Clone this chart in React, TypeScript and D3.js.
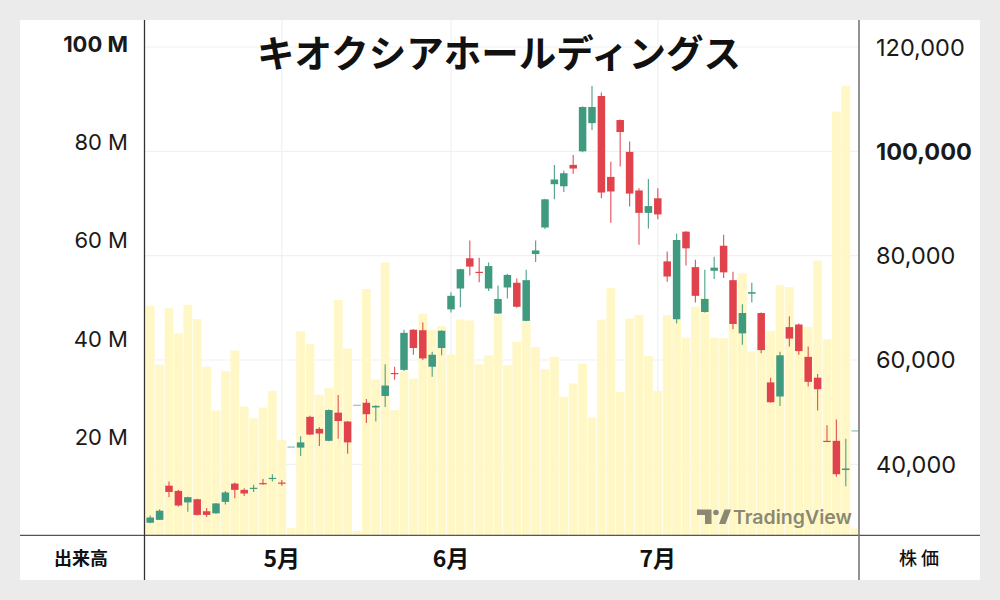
import * as d3 from "d3"

// daily candles, index 0..75 (late Apr – late Jul)
const opens = [
  28800, 29350, 35900, 34900, 32700, 33300, 31000, 30600, 32800, 36300, 35100, 35300, 36400, 37200, 36500, 43300,
  43200, 49100, 46800, 44500, 49900, 48200, 51300, 51800, 50900, 53100, 57500, 58100, 65800, 65700, 58700, 62300,
  69700, 73700, 79500, 76900, 73700, 68900, 73900, 74800, 67500, 80300, 85400, 93700, 93300, 97400, 100000, 105400,
  110600, 95100, 106000, 99900, 92500, 88200, 91000, 78900, 67800, 84600, 77800, 69200, 77100, 81900, 75300, 65100,
  72700, 69000, 55700, 53000, 66300, 66800, 60600, 56600, 44500, 44500, 38900, 46400,
]
const highs = [
  30200, 31400, 36700, 35100, 33800, 33400, 31600, 32600, 34900, 36500, 35400, 36100, 37200, 38100, 37000, 43300,
  45400, 49300, 47100, 50500, 53300, 48300, 51300, 52500, 51300, 59200, 58700, 65800, 65900, 67200, 61600, 65700,
  73000, 77500, 82900, 79600, 78700, 74300, 76500, 75600, 77300, 82900, 90900, 97400, 96300, 99300, 108600, 112500,
  111300, 98000, 106100, 101900, 92900, 94700, 92900, 80800, 84200, 84700, 79200, 77300, 79800, 84000, 76900, 70700,
  74800, 69100, 56600, 61600, 68400, 67000, 62600, 57300, 47500, 48600, 44900, 46400,
]
const lows = [
  28700, 29300, 33700, 31900, 30900, 30200, 29900, 30500, 32300, 33500, 33900, 34700, 36100, 36700, 35900, 43300,
  41600, 45600, 43500, 44400, 44900, 42000, 51300, 47900, 48200, 51000, 56200, 57900, 61000, 60000, 56800, 60900,
  69100, 70100, 76200, 74900, 73200, 68800, 71800, 70000, 67400, 78800, 85100, 90800, 92200, 95700, 99800, 104100,
  91000, 86300, 97100, 89400, 82100, 85200, 87000, 75000, 67000, 78100, 71000, 69100, 75500, 75700, 65900, 62900,
  71000, 61300, 51800, 51200, 62600, 61000, 54900, 50300, 44400, 37600, 35800, 46400,
]
const closes = [
  29800, 31100, 34700, 32100, 33700, 30300, 30300, 32500, 34600, 35100, 34400, 35500, 36200, 37400, 36300, 43300,
  44200, 45700, 45900, 50400, 48300, 44200, 51300, 49600, 51200, 55100, 57400, 65200, 62300, 60300, 61000, 65600,
  72300, 77400, 77900, 76700, 78000, 71700, 76300, 70200, 75300, 81000, 90800, 94600, 95800, 96700, 108500, 108500,
  92100, 92300, 103700, 91900, 88200, 89500, 87900, 76000, 83000, 81400, 72300, 71700, 77700, 76800, 66900, 69000,
  73000, 61900, 51900, 60900, 64100, 61700, 55800, 54400, 44400, 38100, 39200, 46400,
]
// 出来高 (millions of shares)
const volumes = [
  46.7, 34.7, 46.2, 41.1, 46.9, 44.0, 34.3, 25.4, 33.4, 37.6, 26.2, 23.8, 26.0, 29.4, 19.4, 1.5,
  41.5, 38.9, 28.6, 30.0, 47.9, 38.0, 0.9, 50.1, 31.7, 55.5, 25.5, 33.4, 31.9, 45.1, 41.8, 42.6,
  36.8, 43.9, 43.7, 34.8, 36.6, 44.9, 34.6, 39.4, 43.6, 38.3, 33.8, 36.3, 28.2, 30.9, 34.9, 23.9,
  43.9, 50.3, 29.2, 44.1, 44.8, 36.5, 29.4, 44.8, 43.9, 40.2, 46.5, 48.2, 40.2, 40.1, 42.9, 53.3,
  37.4, 39.7, 41.6, 50.9, 50.5, 42.4, 42.4, 55.9, 39.9, 86.2, 91.5, 1.4,
]

const monthIndex = [14, 32, 54]
const monthLabels = ["5月", "6月", "7月"]
const priceTicks = [40000, 60000, 80000, 100000, 120000]
const volumeTicks = [20, 40, 60, 80, 100]

const TITLE = "キオクシアホールディングス"
const UP = "#3f9a80"
const DOWN = "#e0434b"
const VOL = "#fff8c6"
const LATIN = "Inter, 'Noto Sans', sans-serif"
const CJK = "'Noto Sans CJK JP', 'Noto Sans', sans-serif"

export default function App() {
  const left = 144.5
  const right = 859
  const top = 20
  const bottom = 535.3

  const idx = d3.range(opens.length)
  const x = d3
    .scaleBand<number>()
    .domain(idx)
    .range([145.5, 145.5 + 9.4 * idx.length])
    .paddingInner(0.07)
    .paddingOuter(0.035)
  const yPrice = d3.scaleLinear().domain([40000, 120000]).range([464.3, 47])
  const yVol = d3.scaleLinear().domain([0, 100]).range([bottom, 43.8])
  const fmt = d3.format(",")

  const bw = x.bandwidth()
  const cw = 7.5

  return (
    <div style={{ position: "fixed", inset: 0, background: "#ebebeb" }}>
      <svg width={1000} height={600} style={{ display: "block" }}>
        <rect x={0} y={0} width={1000} height={600} fill="#ebebeb" />
        <rect x={20} y={20} width={960} height={560} fill="#fff" />
        <defs>
          <clipPath id="plot">
            <rect x={left} y={top} width={right - left} height={bottom - top} />
          </clipPath>
        </defs>

        <g clipPath="url(#plot)">
          {/* grid */}
          {priceTicks.map((t) => (
            <line key={t} x1={left} x2={right} y1={yPrice(t)} y2={yPrice(t)} stroke="#f1f1f1" strokeWidth={1.2} />
          ))}
          {monthIndex.map((m) => {
            const cx = (x(m) ?? 0) + bw / 2
            return <line key={m} x1={cx} x2={cx} y1={top} y2={bottom} stroke="#f1f1f1" strokeWidth={1.2} />
          })}

          {/* volume */}
          {volumes.map((v, i) => (
            <rect key={i} x={x(i)} y={yVol(v)} width={bw} height={bottom - yVol(v)} fill={VOL} />
          ))}

          {/* candles */}
          {idx.map((i) => {
            const o = opens[i]
            const c = closes[i]
            const color = c >= o ? UP : DOWN
            const cx = (x(i) ?? 0) + bw / 2
            const flat = highs[i] === lows[i]
            if (flat) {
              return (
                <line key={i} x1={cx - cw / 2} x2={cx + cw / 2} y1={yPrice(o)} y2={yPrice(o)} stroke={color} strokeWidth={1.4} opacity={0.5} />
              )
            }
            const yt = yPrice(Math.max(o, c))
            const yb = yPrice(Math.min(o, c))
            return (
              <g key={i}>
                <line x1={cx} x2={cx} y1={yPrice(highs[i])} y2={yPrice(lows[i])} stroke={color} strokeWidth={1.2} opacity={0.85} />
                <rect x={cx - cw / 2} y={yt} width={cw} height={Math.max(1.2, yb - yt)} fill={color} />
              </g>
            )
          })}

          {/* watermark */}
          <g fill="#5a5a50" opacity={0.7}>
            <path d="M697 509.5 H711.5 V524 H705 V515 H697 Z" />
            <circle cx={716} cy={512.5} r={2.8} />
            <path d="M719 524 L724.5 509.5 H731 L725.5 524 Z" />
            <text x={733} y={523.5} fontFamily={LATIN} fontWeight={600} fontSize={19} textLength={119} lengthAdjust="spacingAndGlyphs">
              TradingView
            </text>
          </g>
        </g>

        {/* title */}
        <text x={499} y={50} textAnchor="middle" dominantBaseline="central" fontFamily={CJK} fontWeight={700} fontSize={37.5} fill="#111">
          {TITLE}
        </text>

        {/* frame lines */}
        <line x1={20} x2={980} y1={bottom} y2={bottom} stroke="#555" strokeWidth={1.3} />
        <line x1={left} x2={left} y1={20} y2={580} stroke="#333" strokeWidth={1.3} />
        <line x1={right} x2={right} y1={20} y2={580} stroke="#777" strokeWidth={1.6} />

        {/* left axis: volume */}
        {volumeTicks.map((t) => (
          <text
            key={t}
            x={128}
            y={yVol(t)}
            textAnchor="end"
            dominantBaseline="central"
            fontFamily={LATIN}
            fontSize={22}
            fontWeight={t === 100 ? 700 : 400}
            fill="#1a1a1a"
          >
            {`${t} M`}
          </text>
        ))}

        {/* right axis: price */}
        {priceTicks.map((t) => (
          <text
            key={t}
            x={876}
            y={yPrice(t)}
            dominantBaseline="central"
            fontFamily={LATIN}
            fontSize={23.5}
            fontWeight={t === 100000 ? 700 : 400}
            fill="#1a1a1a"
          >
            {fmt(t)}
          </text>
        ))}

        {/* bottom */}
        <text x={81} y={557} textAnchor="middle" dominantBaseline="central" fontFamily={CJK} fontWeight={700} fontSize={18} fill="#111">
          出来高
        </text>
        <text x={919} y={557} textAnchor="middle" dominantBaseline="central" fontFamily={CJK} fontWeight={500} fontSize={18} fill="#111">
          株 価
        </text>
        {monthIndex.map((m, k) => (
          <text
            key={m}
            x={(x(m) ?? 0) + bw / 2}
            y={557}
            textAnchor="middle"
            dominantBaseline="central"
            fontFamily={CJK}
            fontWeight={700}
            fontSize={23}
            fill="#111"
          >
            {monthLabels[k]}
          </text>
        ))}
      </svg>
    </div>
  )
}
